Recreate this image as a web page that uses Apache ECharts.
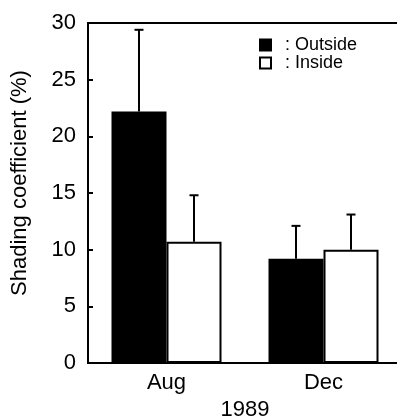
<!DOCTYPE html>
<html>
<head>
<meta charset="utf-8">
<script src="https://cdn.jsdelivr.net/npm/echarts@6/dist/echarts.min.js"></script>
<style>
  html, body { margin: 0; padding: 0; background: #fff; }
  #chart { width: 397px; height: 419px; }
</style>
</head>
<body>
<div id="chart"></div>
<script>
// Shading coefficient by month, 1989
const months = ['Aug', 'Dec'];
const outsideMean = [22.2, 9.2];
const outsideErr = [7.2, 2.9];
const insideMean = [10.7, 10.0];
const insideErr = [4.1, 3.1];
const yTicks = [0, 5, 10, 15, 20, 25, 30];

const FONT = '"Liberation Sans", Arial, Helvetica, sans-serif';
const BAR_W = 55;

// One-sided (upward) error bar drawn at a bar's centre
function errorBar(offset) {
  return function (params, api) {
    const cat = api.value(0);
    const mean = api.value(1);
    const err = api.value(2);
    const base = api.coord([cat, mean]);
    const top = api.coord([cat, mean + err]);
    const x = base[0] + offset;
    const style = { stroke: '#000', lineWidth: 2 };
    return {
      type: 'group',
      children: [
        { type: 'line', shape: { x1: x, y1: base[1], x2: x, y2: top[1] }, style: style },
        { type: 'line', shape: { x1: x - 4.5, y1: top[1], x2: x + 4.5, y2: top[1] }, style: style }
      ]
    };
  };
}

const chart = echarts.init(document.getElementById('chart'));
chart.setOption({
  animation: false,
  backgroundColor: '#fff',
  textStyle: { fontFamily: FONT, color: '#000' },
  grid: {
    left: 88, width: 314, top: 23, bottom: 56,
    containLabel: false,
    outerBoundsMode: 'none',
    show: true, borderColor: '#000', borderWidth: 2, backgroundColor: 'transparent'
  },
  legend: {
    orient: 'vertical',
    left: 259, top: 36,
    padding: 0,
    itemWidth: 11, itemHeight: 11, itemGap: 0,
    icon: 'rect',
    data: ['Outside', 'Inside'],
    formatter: function (name) { return ': ' + name; },
    textStyle: { fontFamily: FONT, fontSize: 18, color: '#000', lineHeight: 18, padding: [0, 0, 0, 9] }
  },
  xAxis: {
    type: 'category',
    data: months,
    boundaryGap: true,
    name: '1989',
    nameLocation: 'middle',
    nameGap: 36,
    nameTextStyle: { fontFamily: FONT, fontSize: 22, color: '#000' },
    axisLine: { lineStyle: { color: '#000', width: 2 } },
    axisTick: { show: false },
    axisLabel: { fontFamily: FONT, fontSize: 22, color: '#000', margin: 9 }
  },
  yAxis: {
    type: 'value',
    min: yTicks[0],
    max: yTicks[yTicks.length - 1],
    interval: 5,
    name: 'Shading coefficient (%)',
    nameLocation: 'middle',
    nameRotate: 90,
    nameGap: 57,
    nameTextStyle: { fontFamily: FONT, fontSize: 22, color: '#000', padding: [0, 0, 0, 20] },
    axisLine: { show: true, lineStyle: { color: '#000', width: 2 } },
    axisTick: { show: true, inside: true, length: 5, lineStyle: { color: '#000', width: 2 } },
    axisLabel: { fontFamily: FONT, fontSize: 22, color: '#000', margin: 12 },
    splitLine: { show: false }
  },
  series: [
    {
      name: 'Outside',
      type: 'bar',
      barWidth: BAR_W,
      barGap: '0%',
      data: outsideMean,
      itemStyle: { color: '#000', borderColor: '#000', borderWidth: 2 },
      z: 2
    },
    {
      name: 'Inside',
      type: 'bar',
      barWidth: BAR_W,
      barGap: '0%',
      data: insideMean,
      itemStyle: { color: '#fff', borderColor: '#000', borderWidth: 2 },
      z: 2
    },
    {
      type: 'custom',
      renderItem: errorBar(-BAR_W / 2),
      data: months.map((m, i) => [i, outsideMean[i], outsideErr[i]]),
      z: 3
    },
    {
      type: 'custom',
      renderItem: errorBar(BAR_W / 2),
      data: months.map((m, i) => [i, insideMean[i], insideErr[i]]),
      z: 3
    }
  ]
});
</script>
</body>
</html>
